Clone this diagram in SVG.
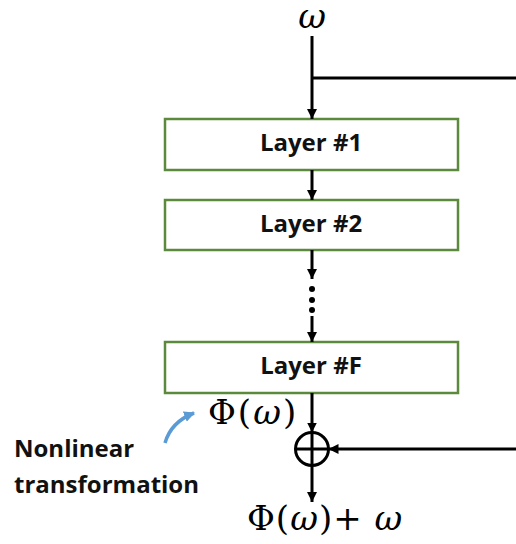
<svg xmlns="http://www.w3.org/2000/svg" width="516" height="544" viewBox="0 0 516 544">
<style>
.box{fill:#fff;stroke:#5b8a3c;stroke-width:2.5}
.lbl{font-family:"Open Sans","Liberation Sans",sans-serif;font-weight:bold;font-size:24px;fill:#111;text-anchor:middle}
.ln{stroke:#000;stroke-width:3;fill:none}
.math{font-family:"DejaVu Serif","Liberation Serif",serif;font-size:34px;fill:#000}
.note{font-family:"Open Sans","Liberation Sans",sans-serif;font-weight:bold;font-size:24px;fill:#111}
</style>
<defs>
<marker id="ah" viewBox="0 0 10 10" refX="10" refY="5" markerWidth="10" markerHeight="10" markerUnits="userSpaceOnUse" orient="auto">
<path d="M0,0 L10,5 L0,10 z" fill="#000"/>
</marker>
<marker id="bh" viewBox="0 0 10 10" refX="9" refY="5" markerWidth="11" markerHeight="11" markerUnits="userSpaceOnUse" orient="auto">
<path d="M0,0 L10,5 L0,10 z" fill="#5b9bd5"/>
</marker>
</defs>
<g id="input"><text class="math" x="312" y="28" text-anchor="middle" font-style="italic" font-size="28">ω</text></g>
<g id="layer1"><rect class="box" x="165" y="119" width="293" height="51"/><text class="lbl" x="311" y="151">Layer #1</text></g>
<g id="layer2"><rect class="box" x="165" y="200" width="293" height="50"/><text class="lbl" x="311" y="232">Layer #2</text></g>
<g id="layerF"><rect class="box" x="165" y="342" width="293" height="51"/><text class="lbl" x="311" y="374">Layer #F</text></g>
<g id="phi"><text class="math" x="208" y="424" letter-spacing="2">Φ(<tspan font-style="italic">ω</tspan>)</text></g>
<g id="sum"><circle cx="312" cy="449" r="16.5" fill="none" stroke="#000" stroke-width="3"/><line class="ln" x1="295.5" y1="449" x2="328.5" y2="449"/><line class="ln" x1="312" y1="432.5" x2="312" y2="465.5"/></g>
<g id="output"><text class="math" x="247" y="530" letter-spacing="1">Φ(<tspan font-style="italic">ω</tspan>)+ <tspan font-style="italic">ω</tspan></text></g>
<g id="note"><text class="note" x="14" y="457">Nonlinear</text><text class="note" x="14" y="493">transformation</text></g>
<g id="connectors">
<line class="ln" x1="312" y1="36" x2="312" y2="119" marker-end="url(#ah)"/>
<line class="ln" x1="312" y1="78" x2="516" y2="78"/>
<line class="ln" x1="312" y1="170" x2="312" y2="200" marker-end="url(#ah)"/>
<line class="ln" x1="312" y1="250" x2="312" y2="279" marker-end="url(#ah)"/>
<circle cx="312" cy="289" r="3" fill="#000"/>
<circle cx="312" cy="300" r="3" fill="#000"/>
<circle cx="312" cy="310" r="3" fill="#000"/>
<line class="ln" x1="312" y1="316" x2="312" y2="342" marker-end="url(#ah)"/>
<line class="ln" x1="312" y1="393" x2="312" y2="432.5" marker-end="url(#ah)"/>
<line class="ln" x1="516" y1="449" x2="328.5" y2="449" marker-end="url(#ah)"/>
<line class="ln" x1="312" y1="465.5" x2="312" y2="502" marker-end="url(#ah)"/>
<path d="M165,443 Q171,422 194,413" fill="none" stroke="#5b9bd5" stroke-width="3.5" marker-end="url(#bh)"/>
</g>
</svg>
